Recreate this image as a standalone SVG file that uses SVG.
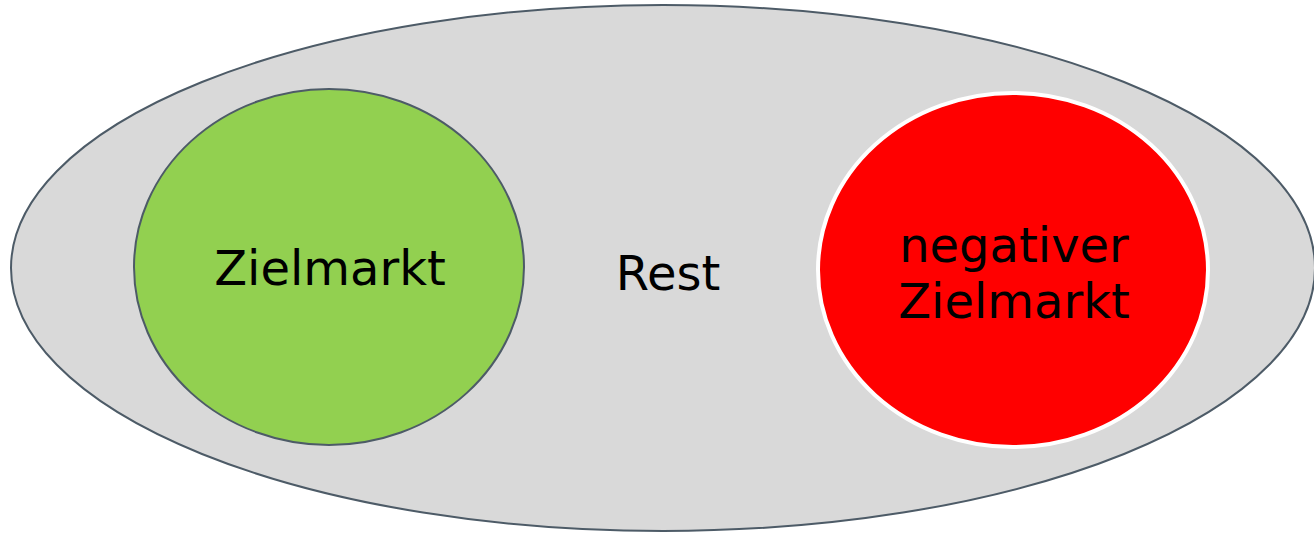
<svg xmlns="http://www.w3.org/2000/svg" width="1314" height="533" viewBox="0 0 1314 533">
<style>
text{font-family:"DejaVu Sans",Verdana,sans-serif;font-size:48px;fill:#000;text-anchor:middle}
</style>
<rect width="1314" height="533" fill="#fff"/>
<g id="rest">
<ellipse cx="663" cy="268" rx="652" ry="263" fill="#d9d9d9" stroke="#4d5b67" stroke-width="2"/>
<text x="668" y="290">Rest</text>
</g>
<g id="zielmarkt">
<ellipse cx="329" cy="267" rx="195" ry="178" fill="#92d050" stroke="#4d5b67" stroke-width="2"/>
<text x="330" y="285">Zielmarkt</text>
</g>
<g id="negativer">
<ellipse cx="1013" cy="270" rx="195" ry="177" fill="#ff0000" stroke="#fff" stroke-width="4"/>
<text x="1014" y="262">negativer</text>
<text x="1014" y="318">Zielmarkt</text>
</g>
<g id="connectors"/>
</svg>
